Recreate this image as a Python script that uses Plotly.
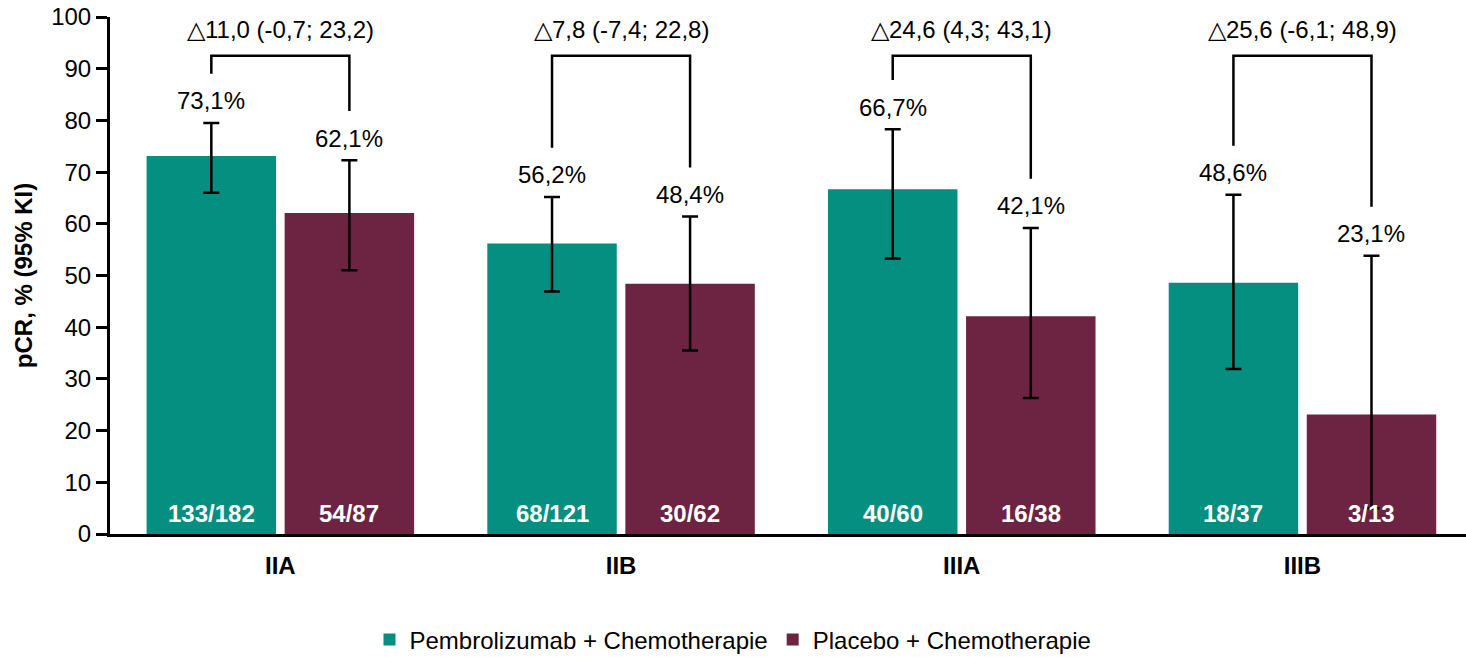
import plotly.graph_objects as go

# Stage groups and outcomes
stages = ["IIA", "IIB", "IIIA", "IIIB"]
series_names = ["Pembrolizumab + Chemotherapie", "Placebo + Chemotherapie"]

pembro_pcr = [73.1, 56.2, 66.7, 48.6]
pembro_ci_low = [66.0, 46.9, 53.3, 31.9]
pembro_ci_high = [79.5, 65.2, 78.3, 65.6]
pembro_n = ["133/182", "68/121", "40/60", "18/37"]

placebo_pcr = [62.1, 48.4, 42.1, 23.1]
placebo_ci_low = [51.0, 35.5, 26.3, 5.0]
placebo_ci_high = [72.3, 61.4, 59.2, 53.8]
placebo_n = ["54/87", "30/62", "16/38", "3/13"]

delta = [11.0, 7.8, 24.6, 25.6]
delta_low = [-0.7, -7.4, 4.3, -6.1]
delta_high = [23.2, 22.8, 43.1, 48.9]

y_ticks = [0, 10, 20, 30, 40, 50, 60, 70, 80, 90, 100]

# Styling
GREEN = "#058F81"
PURPLE = "#6D2442"
FONT = "Liberation Sans, Arial, sans-serif"
FS = 24
BAR_W = 0.38
HALF_GAP = 0.0126
SHIFT = BAR_W / 2 + HALF_GAP  # distance of each bar centre from the group centre


def de(v):
    return f"{v:.1f}".replace(".", ",")


xs = list(range(len(stages)))

fig = go.Figure()

for name, vals, lo, hi, color, off in [
    (series_names[0], pembro_pcr, pembro_ci_low, pembro_ci_high, GREEN, -BAR_W - HALF_GAP),
    (series_names[1], placebo_pcr, placebo_ci_low, placebo_ci_high, PURPLE, HALF_GAP),
]:
    fig.add_trace(go.Bar(
        x=xs, y=vals, name=name,
        width=BAR_W, offset=off,
        marker=dict(color=color, line=dict(width=0)),
        error_y=dict(
            type="data", symmetric=False,
            array=[h - v for h, v in zip(hi, vals)],
            arrayminus=[v - l for v, l in zip(vals, lo)],
            color="black", thickness=2.5, width=8,
        ),
        hoverinfo="skip",
    ))

# Brackets linking the two arms of each stage
bx, by = [], []
BRACKET_TOP = 92.5
LEG_GAP = 9.5
for i in xs:
    bx += [i - SHIFT, i - SHIFT, i + SHIFT, i + SHIFT, None]
    by += [pembro_ci_high[i] + LEG_GAP, BRACKET_TOP, BRACKET_TOP, placebo_ci_high[i] + LEG_GAP, None]
fig.add_trace(go.Scatter(
    x=bx, y=by, mode="lines", line=dict(color="black", width=2.5),
    showlegend=False, hoverinfo="skip",
))

annotations = []
for i in xs:
    for sign, val, hi, n in [(-1, pembro_pcr[i], pembro_ci_high[i], pembro_n[i]),
                             (1, placebo_pcr[i], placebo_ci_high[i], placebo_n[i])]:
        xc = i + sign * SHIFT
        annotations.append(dict(
            x=xc, y=hi, text=de(val) + "%", showarrow=False,
            yanchor="middle", yshift=22,
            font=dict(family=FONT, size=FS, color="black"),
        ))
        annotations.append(dict(
            x=xc, y=0, text=n, showarrow=False,
            yanchor="middle", yshift=21,
            font=dict(family=FONT, size=FS, color="white", weight="bold"),
        ))
    annotations.append(dict(
        x=i, y=97.6, showarrow=False, yanchor="middle",
        text=f"\u25b3{de(delta[i])} ({de(delta_low[i])}; {de(delta_high[i])})",
        font=dict(family=FONT, size=FS, color="black"),
    ))

fig.update_layout(
    width=1466, height=657,
    margin=dict(l=110, r=0, t=17, b=123, autoexpand=False),
    paper_bgcolor="white", plot_bgcolor="white",
    font=dict(family=FONT, size=FS, color="black"),
    showlegend=True,
    legend=dict(
        orientation="h", xref="container", yref="container",
        x=0.5, xanchor="center", y=0.026, yanchor="middle",
        font=dict(family=FONT, size=FS, color="black"),
        traceorder="normal",
    ),
    annotations=annotations,
    xaxis=dict(
        range=[-0.5, 3.48], tickmode="array", tickvals=xs, ticktext=stages,
        showgrid=False, zeroline=False, showline=True,
        linecolor="black", linewidth=3, ticks="",
        tickfont=dict(family=FONT, size=FS, color="black", weight="bold"),
        ticklabelstandoff=8,
    ),
    yaxis=dict(
        range=[0, 100], tickmode="array", tickvals=y_ticks,
        showgrid=False, zeroline=False, showline=True,
        linecolor="black", linewidth=3,
        ticks="outside", ticklen=11, tickwidth=2.5, tickcolor="black",
        tickfont=dict(family=FONT, size=FS, color="black"),
        title=dict(text="pCR, % (95% KI)", standoff=12,
                   font=dict(family=FONT, size=FS, color="black", weight="bold")),
    ),
)

fig.write_html("out.html")
